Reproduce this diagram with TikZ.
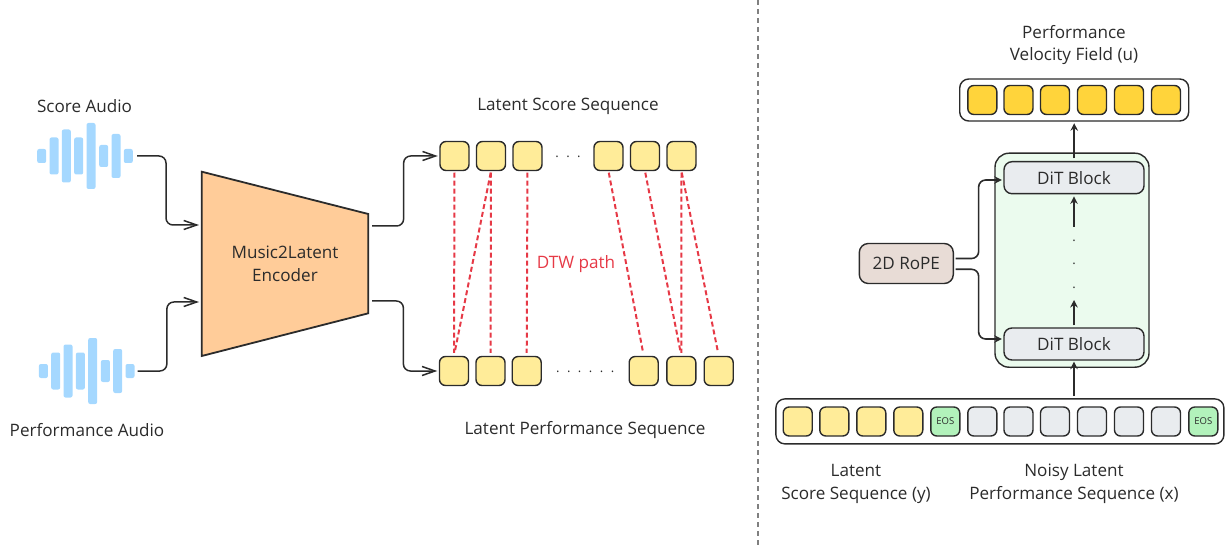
\documentclass[tikz,border=0pt]{standalone}
\usepackage{fontspec}
\setmainfont{Open Sans}
\usetikzlibrary{arrows.meta,calc}
\definecolor{inkc}{HTML}{2B2B2B}
\definecolor{wavec}{HTML}{A5D8FF}
\definecolor{encc}{HTML}{FFCC99}
\definecolor{lyellow}{HTML}{FFEC99}
\definecolor{dyellow}{HTML}{FFD43B}
\definecolor{greyc}{HTML}{E9ECEF}
\definecolor{eosc}{HTML}{B2F2BB}
\definecolor{panelc}{HTML}{EBFBEE}
\definecolor{ropec}{HTML}{E8DCD6}
\definecolor{dtwc}{HTML}{E63946}
\tikzset{
  label/.style={text=inkc,font=\fontsize{17.1pt}{22.5pt}\selectfont,align=center,inner sep=0pt},
  cell/.style={draw=inkc,line width=1.4pt,rounded corners=6pt,minimum size=29pt,inner sep=0pt},
  bar/.style={draw=inkc,line width=1.4pt,rounded corners=9pt,inner sep=0pt},
  wavebar/.style={fill=wavec,rounded corners=2pt,minimum width=9pt,inner sep=0pt},
  conn/.style={draw=inkc,line width=1.5pt,rounded corners=7pt,-{Straight Barb[length=13pt,width=9pt]}},
  solid arrow/.style={draw=inkc,line width=1.6pt,-{Stealth[length=7.5pt,width=7.5pt]}},
  dtw/.style={draw=dtwc,line width=2pt,dash pattern=on 5pt off 3pt,shorten <=1.5pt,shorten >=3pt},
  sdots/.style={text=inkc,font=\fontsize{13pt}{13pt}\selectfont,inner sep=0pt}
}
\begin{document}
\begin{tikzpicture}[x=1pt,y=-1pt]
  \useasboundingbox (0,0) rectangle (1227,548);

  \coordinate (seplow) at (757.5,548);
  \coordinate (sephigh) at (757.5,0);
  \draw[gray,line width=2pt,dash pattern=on 5pt off 4pt] (sephigh) -- (seplow);

  % audio
  \foreach \i/\x/\h in {1/41.7/14,2/54/37,3/66.3/53,4/78.7/37,5/91/66,6/103.7/22,7/116/44,8/128.3/14}
    \node[wavebar,minimum height=\h pt] (sw\i) at (\x,156) {};
  \foreach \i/\x/\h in {1/43.4/14,2/55.7/37,3/68/53,4/80.4/37,5/92.7/66,6/105.4/22,7/117.7/44,8/130/14}
    \node[wavebar,minimum height=\h pt] (pw\i) at (\x,371) {};
  \node[label] (scorelabel) at (84.5,106.3) {Score Audio};
  \node[label] (perflabel) at (87,430.5) {Performance Audio};

  % encoder
  \coordinate (enctl) at (201.7,171.7);
  \coordinate (enctr) at (368.3,214);
  \coordinate (encbr) at (368.3,313.3);
  \coordinate (encbl) at (201.7,356);
  \draw[fill=encc,draw=inkc,line width=1.8pt] (enctl) -- (enctr) -- (encbr) -- (encbl) -- cycle;
  \node[label] (enc) at (285,264) {Music2Latent\\Encoder};
  \coordinate (encinA) at (199,225);
  \coordinate (encinB) at (199,302);
  \coordinate (encoutA) at (372,226);
  \coordinate (encoutB) at (372,301);

  % latent rows
  \foreach \i/\x in {1/454.5,2/491,3/527.5,4/608.5,5/645,6/681.5}
    \node[cell,fill=lyellow] (t\i) at (\x,156) {};
  \foreach \i/\x in {1/454,2/490.5,3/526.7,4/643.7,5/681.3,6/718.7}
    \node[cell,fill=lyellow] (b\i) at (\x,371) {};
  \node[sdots] (tdots) at (568,157) {.\hspace{7.5pt}.\hspace{7.5pt}.};
  \node[sdots] (bdots) at (585.2,372) {.\hspace{7.5pt}.\hspace{7.5pt}.\hspace{7.5pt}.\hspace{7.5pt}.\hspace{7.5pt}.};
  \node[label] (toplabel) at (568,106.3) {Latent Score Sequence};
  \node[label] (botlabel) at (585,430.5) {Latent Performance Sequence};
  \node[label,text=dtwc] (dtwlabel) at (576,264) {DTW path};

  \foreach \from/\to in {1/1,2/1,2/2,3/3,4/4,5/5,6/5,6/6}
    \draw[dtw] (t\from.south) -- (b\to.north);

  \draw[conn] (sw8.east) [shorten <=4pt] -| ($(sw8.east)!.5!(encinA)$) |- (encinA);
  \draw[conn] (pw8.east) [shorten <=3pt] -| ($(pw8.east)!.5!(encinB)$) |- (encinB);
  \draw[conn,shorten >=1.5pt] (encoutA) -| ($(encoutA)!.47!(t1.west)$) |- (t1.west);
  \draw[conn,shorten >=1.5pt] (encoutB) -| ($(encoutB)!.47!(b1.west)$) |- (b1.west);

  % right part
  \node[bar,minimum width=229pt,minimum height=42pt] (ubar) at (1074.2,100) {};
  \foreach \i/\x in {1/982.3,2/1018.5,3/1055,4/1092,5/1129,6/1166}
    \node[cell,fill=dyellow] (u\i) at (\x,100) {};
  \node[label] (ulabel) at (1074,45) {Performance\\Velocity Field (u)};

  \node[draw=inkc,line width=1.4pt,fill=panelc,rounded corners=14pt,minimum width=154pt,minimum height=214pt,inner sep=0pt] (panel) at (1072,260.2) {};
  \node[label,draw=inkc,line width=1.4pt,fill=greyc,rounded corners=8pt,minimum width=140pt,minimum height=32pt] (dittop) at (1074,177.7) {DiT Block};
  \node[label,draw=inkc,line width=1.4pt,fill=greyc,rounded corners=8pt,minimum width=140pt,minimum height=32pt] (ditbot) at (1074,344) {DiT Block};
  \node[label,draw=inkc,line width=1.4pt,fill=ropec,rounded corners=9pt,minimum width=94pt,minimum height=40pt] (rope) at (906.3,263.5) {2D RoPE};
  \foreach \i/\y in {1/241,2/264,3/288}
    \node[sdots] (vdot\i) at (1074,\y) {.};

  \node[bar,minimum width=448pt,minimum height=45pt] (seqbar) at (999.9,421.4) {};
  \foreach \i/\x in {1/797.7,2/834.3,3/871.3,4/908.3}
    \node[cell,fill=lyellow] (y\i) at (\x,421.5) {};
  \foreach \i/\x in {1/982.3,2/1018.5,3/1055,4/1092,5/1129,6/1166}
    \node[cell,fill=greyc] (x\i) at (\x,421.5) {};
  \node[cell,fill=eosc,text=inkc,font=\fontsize{9.5pt}{9.5pt}\selectfont] (eosa) at (945.3,421.5) {EOS};
  \node[cell,fill=eosc,text=inkc,font=\fontsize{9.5pt}{9.5pt}\selectfont] (eosb) at (1203.3,421.5) {EOS};
  \node[label] (ylabel) at (856,484) {Latent\\Score Sequence (y)};
  \node[label] (xlabel) at (1074,484) {Noisy Latent\\Performance Sequence (x)};

  \coordinate (dotsup) at (1074,226.7);
  \coordinate (dotslow) at (1074,300);
  \draw[solid arrow,shorten >=1.5pt] (panel.north -| ubar.south) [shorten <=-6pt] -- (ubar.south);
  \draw[solid arrow,shorten >=2pt] (dotsup) -- (dittop.south);
  \draw[solid arrow] (ditbot.north) [shorten <=2pt] -- (dotslow);
  \draw[solid arrow,shorten >=1pt,shorten <=2pt] (seqbar.north -| ditbot.south) -- (ditbot.south);
  \draw[solid arrow,rounded corners=7pt,shorten >=1.5pt] ([yshift=5pt]rope.east) [shorten <=1.5pt] -| ($(rope.east)!.5!(dittop.west)$) |- ([yshift=-2.3pt]dittop.west);
  \draw[solid arrow,rounded corners=7pt,shorten >=1.5pt] ([yshift=-5.8pt]rope.east) [shorten <=1.5pt] -| ($(rope.east)!.5!(ditbot.west)$) |- ([yshift=5pt]ditbot.west);
\end{tikzpicture}
\end{document}
